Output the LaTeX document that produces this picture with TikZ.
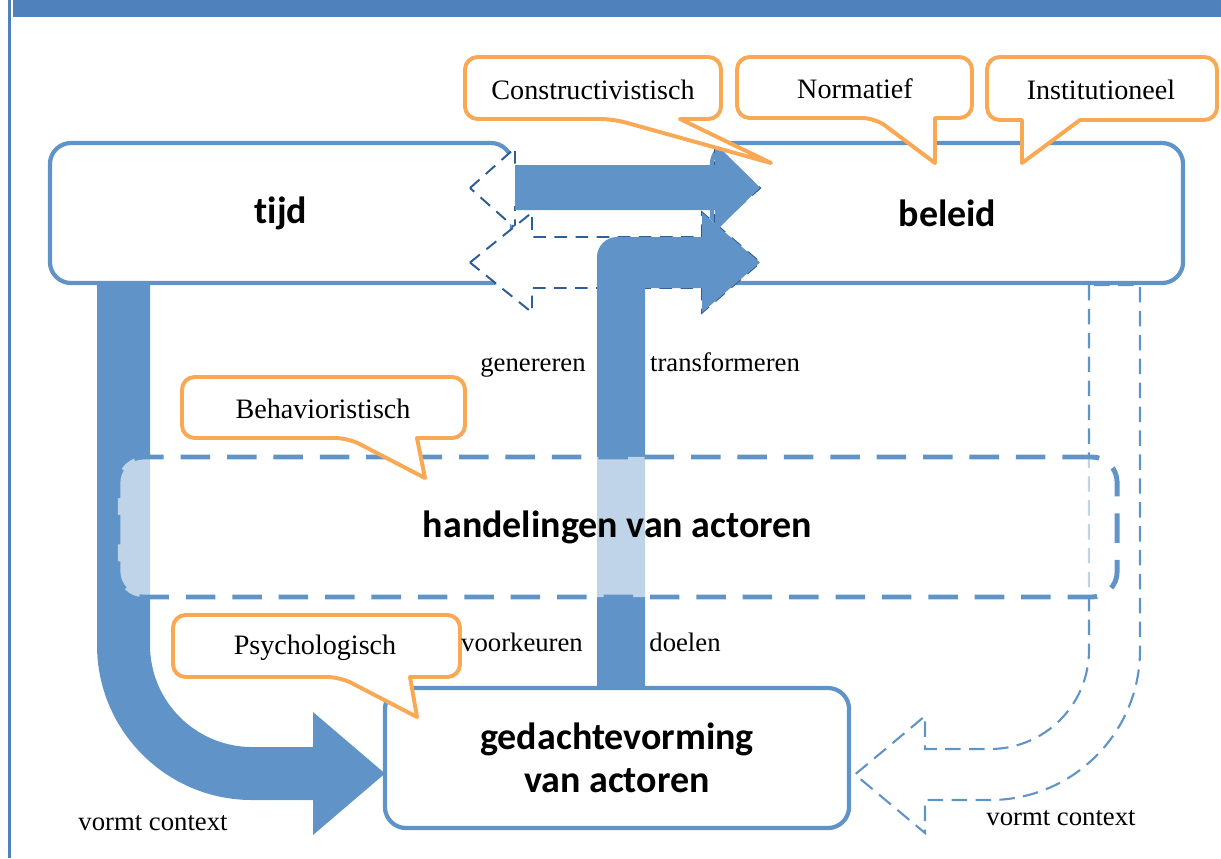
\documentclass[tikz,border=0pt]{standalone}
\usepackage{fontspec}
\setmainfont{Liberation Serif}
\newfontfamily\carlito{Carlito}[Ligatures=NoCommon]
\definecolor{boxblue}{RGB}{96,148,201}
\definecolor{topblue}{RGB}{79,129,189}
\definecolor{dashdark}{RGB}{45,95,150}
\definecolor{calloutorange}{RGB}{249,168,84}
\begin{document}
\begin{tikzpicture}[x=0.025cm, y=-0.025cm,
  box/.style={draw=boxblue, line width=3pt, rounded corners=15pt, fill=white, inner sep=0pt,
    font=\carlito\bfseries\fontsize{27}{31}\selectfont, align=center},
  actbox/.style={draw=boxblue, line width=3.5pt, rounded corners=18pt, fill=white, fill opacity=0.6,
    text opacity=1, dash pattern=on 21pt off 12pt, inner sep=0pt,
    font=\carlito\bfseries\fontsize{27}{31}\selectfont},
  dasharrow/.style={draw=dashdark, fill=white, line width=1.4pt, dash pattern=on 9pt off 6pt},
  udash/.style={draw=boxblue, line width=1.5pt, dash pattern=on 11pt off 6pt},
  blockarrow/.style={fill=boxblue},
  callout/.style={draw=calloutorange, line width=2.8pt, fill=white, line join=round},
  ctext/.style={font=\fontsize{20}{24}\selectfont, inner sep=0pt},
  lbl/.style={font=\fontsize{19}{23}\selectfont, inner sep=0pt}]
\useasboundingbox (0,0) rectangle (1221,858);
% page frame
\fill[topblue] (12.5,0) rectangle (1221,17);
\fill[topblue] (8,0) rectangle (11,858);

% main boxes
\node[box, minimum width=11.55cm, minimum height=3.5cm] (tijd) at (281,213) {tijd};
\node[box, minimum width=11.775cm, minimum height=3.5cm] (beleid) at (947.5,213) {beleid};
\node[box, minimum width=11.6cm, minimum height=3.5cm] (gedacht) at (617,758) {gedachtevorming\\van actoren};

% dashed double arrows between tijd and beleid
\draw[dasharrow] (470,188) -- (515,148) -- (515,168) -- (715,168) -- (715,148) -- (760,188)
  -- (715,228) -- (715,207) -- (515,207) -- (515,228) -- cycle;
\draw[dasharrow] (470,262.5) -- (532,212.5) -- (532,237) -- (702,237) -- (702,212.5) -- (760,262.5)
  -- (702,312.5) -- (702,288) -- (532,288) -- (532,312.5) -- cycle;

% dashed U-turn arrow beleid -> gedachtevorming
\draw[udash] (1089,285) -- (1089,650) .. controls (1089,704.7) and (1044.7,749) .. (990,749)
  -- (925,749) -- (925,716) -- (855,774.5) -- (925,833) -- (925,800) -- (990,800)
  .. controls (1072.8,800) and (1140,732.8) .. (1140,650) -- (1140,285) -- cycle;

% solid block arrows
\fill[blockarrow] (515,165) -- (715,165) -- (715,143) -- (760,187.5) -- (715,232) -- (715,210)
  -- (515,210) -- cycle;
\fill[blockarrow] (597,686) -- (597,257) .. controls (597,246) and (606,237) .. (617,237)
  -- (702,237) -- (702,212.5) -- (760,262.5) -- (702,312.5) -- (702,288) -- (645,288)
  -- (645,686) -- cycle;
\fill[blockarrow] (97,285) -- (97,645) .. controls (97,730.6) and (166.4,800) .. (252,800)
  -- (313,800) -- (313,835) -- (385,773.5) -- (313,712) -- (313,747) -- (252,747)
  .. controls (195.7,747) and (150,701.3) .. (150,645) -- (150,285) -- cycle;

% actions box (translucent)
\node[actbox, minimum width=24.975cm, minimum height=3.5cm] (hand) at (617.5,527) {handelingen van actoren};

% callouts
\draw[callout] (771,163) -- (680,119) [rounded corners=9pt] -- (721,119) -- (721,57) -- (465,57)
  -- (465,119) -- (613,119) [sharp corners] -- cycle;
\node[ctext] (cconstr) at (593,90) {Constructivistisch};
\draw[callout] (935,163) -- (935,118) [rounded corners=9pt] -- (972,118) -- (972,57) -- (737,57)
  -- (737,118) -- (875,118) [sharp corners] -- cycle;
\node[ctext] (cnorm) at (855,89) {Normatief};
\draw[callout] (1022,163) -- (1080,120) [rounded corners=9pt] -- (1217,120) -- (1217,57) -- (987,57)
  -- (987,120) [sharp corners] -- (1022,120) -- cycle;
\node[ctext] (cinst) at (1101,90) {Institutioneel};
\draw[callout] (425,478) -- (417,438) [rounded corners=9pt] -- (465,438) -- (465,377) -- (182,377)
  -- (182,438) -- (348,438) [sharp corners] -- cycle;
\node[ctext] (cbeh) at (323,409) {Behavioristisch};
\draw[callout] (417,717) -- (410,677) [rounded corners=9pt] -- (460,677) -- (460,615) -- (173,615)
  -- (173,677) -- (340,677) [sharp corners] -- cycle;
\node[ctext] (cpsy) at (315,648) {Psychologisch};

% labels
\node[lbl, anchor=base] (lgen) at (533,371) {genereren};
\node[lbl, anchor=base] (ltrans) at (725,371) {transformeren};
\node[lbl, anchor=base] (lvoork) at (522,651) {voorkeuren};
\node[lbl, anchor=base] (ldoel) at (685,651) {doelen};
\node[lbl, anchor=base] (lctxl) at (153,830) {vormt context};
\node[lbl, anchor=base] (lctxr) at (1061,825) {vormt context};
\end{tikzpicture}
\end{document}
